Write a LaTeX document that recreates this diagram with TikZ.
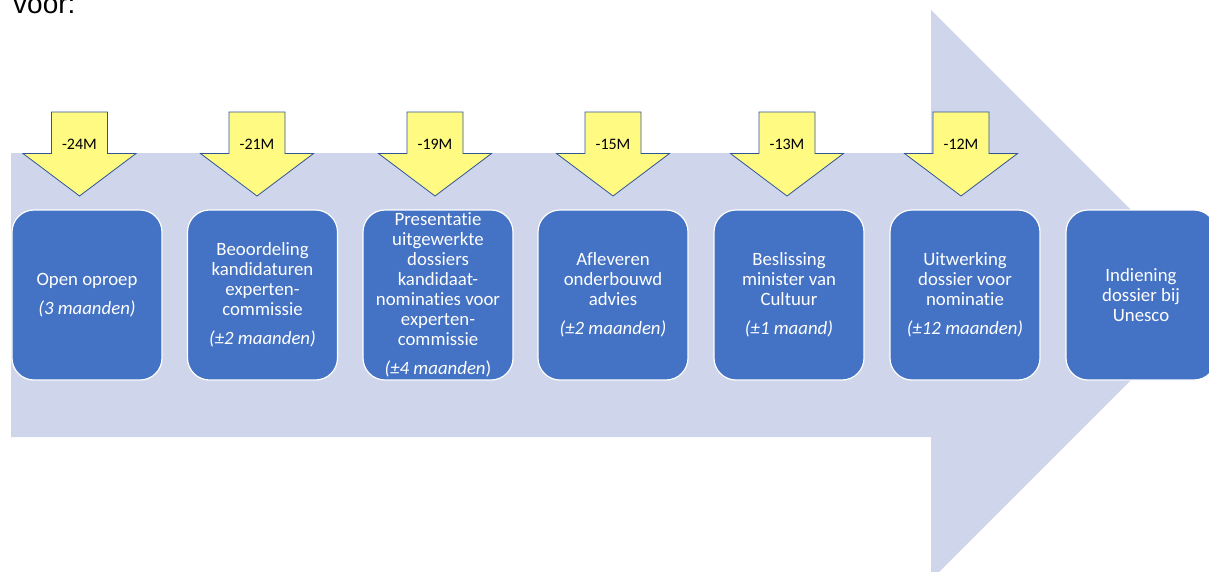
\documentclass[tikz,border=0pt]{standalone}
\usepackage{fontspec}
\setmainfont{Carlito}[Ligatures={NoCommon,NoContextual}]
\newfontfamily\arialfont{Liberation Sans}
\definecolor{bgarrow}{RGB}{207,213,234}
\definecolor{boxblue}{RGB}{68,114,196}
\definecolor{ylw}{RGB}{255,250,130}
\definecolor{ylwline}{RGB}{47,85,151}
\tikzset{
  stepbox/.style={draw=white, line width=1.2pt, fill=boxblue, text=white,
    minimum width=150pt, minimum height=170pt, inner sep=0pt,
    rounded corners=22pt, align=center,
    font=\fontsize{18.8}{20}\selectfont},
  ylwarrow/.style={draw=ylwline, line width=0.8pt, fill=ylw, line join=miter},
  marklabel/.style={font=\fontsize{16}{18}\selectfont, text=black, inner sep=0pt}
}
\begin{document}
\begin{tikzpicture}[x=1pt,y=-1pt]
\useasboundingbox (0,0) rectangle (1209,571);
\clip (0,0) rectangle (1209,571);
% big background arrow
\fill[bgarrow] (11,153) -- (931,153) -- (931,10) -- (1216,295) -- (931,580) -- (931,437) -- (11,437) -- cycle;
% clipped title fragment
\node[font=\arialfont\fontsize{28}{28}\selectfont, anchor=base west, inner sep=0pt] (voor) at (13,13) {voor:};
% yellow milestone arrows
\foreach \cx/\lab/\nm in {79.5/-24M/m1, 257/-21M/m2, 435/-19M/m3, 613/-15M/m4, 787/-13M/m5, 961/-12M/m6} {
  \draw[ylwarrow] (\cx-28,112) -- (\cx+28,112) -- (\cx+28,153.5) -- (\cx+56.5,153.5) -- (\cx,196) -- (\cx-56.5,153.5) -- (\cx-28,153.5) -- cycle;
  \node[marklabel] (\nm) at (\cx,144.5) {\lab};
}
% step boxes
\node[stepbox] (b1) at (87,295) {Open oproep\\[9pt]\textit{(3 maanden)}};
\node[stepbox] (b2) at (262.5,295) {Beoordeling\\kandidaturen\\experten-\\commissie\\[9pt]\textit{(±2 maanden)}};
\node[stepbox] (b3) at (438,295) {Presentatie\\uitgewerkte\\dossiers\\kandidaat-\\nominaties voor\\experten-\\commissie\\[9pt]\textit{(±4 maanden})};
\node[stepbox] (b4) at (613,295) {Afleveren\\onderbouwd\\advies\\[9pt]\textit{(±2 maanden)}};
\node[stepbox] (b5) at (789,295) {Beslissing\\minister van\\Cultuur\\[9pt]\textit{(±1 maand)}};
\node[stepbox] (b6) at (965,295) {Uitwerking\\dossier voor\\nominatie\\[9pt]\textit{(±12 maanden)}};
\node[stepbox] (b7) at (1141,295) {Indiening\\dossier bij\\Unesco};
\end{tikzpicture}
\end{document}
